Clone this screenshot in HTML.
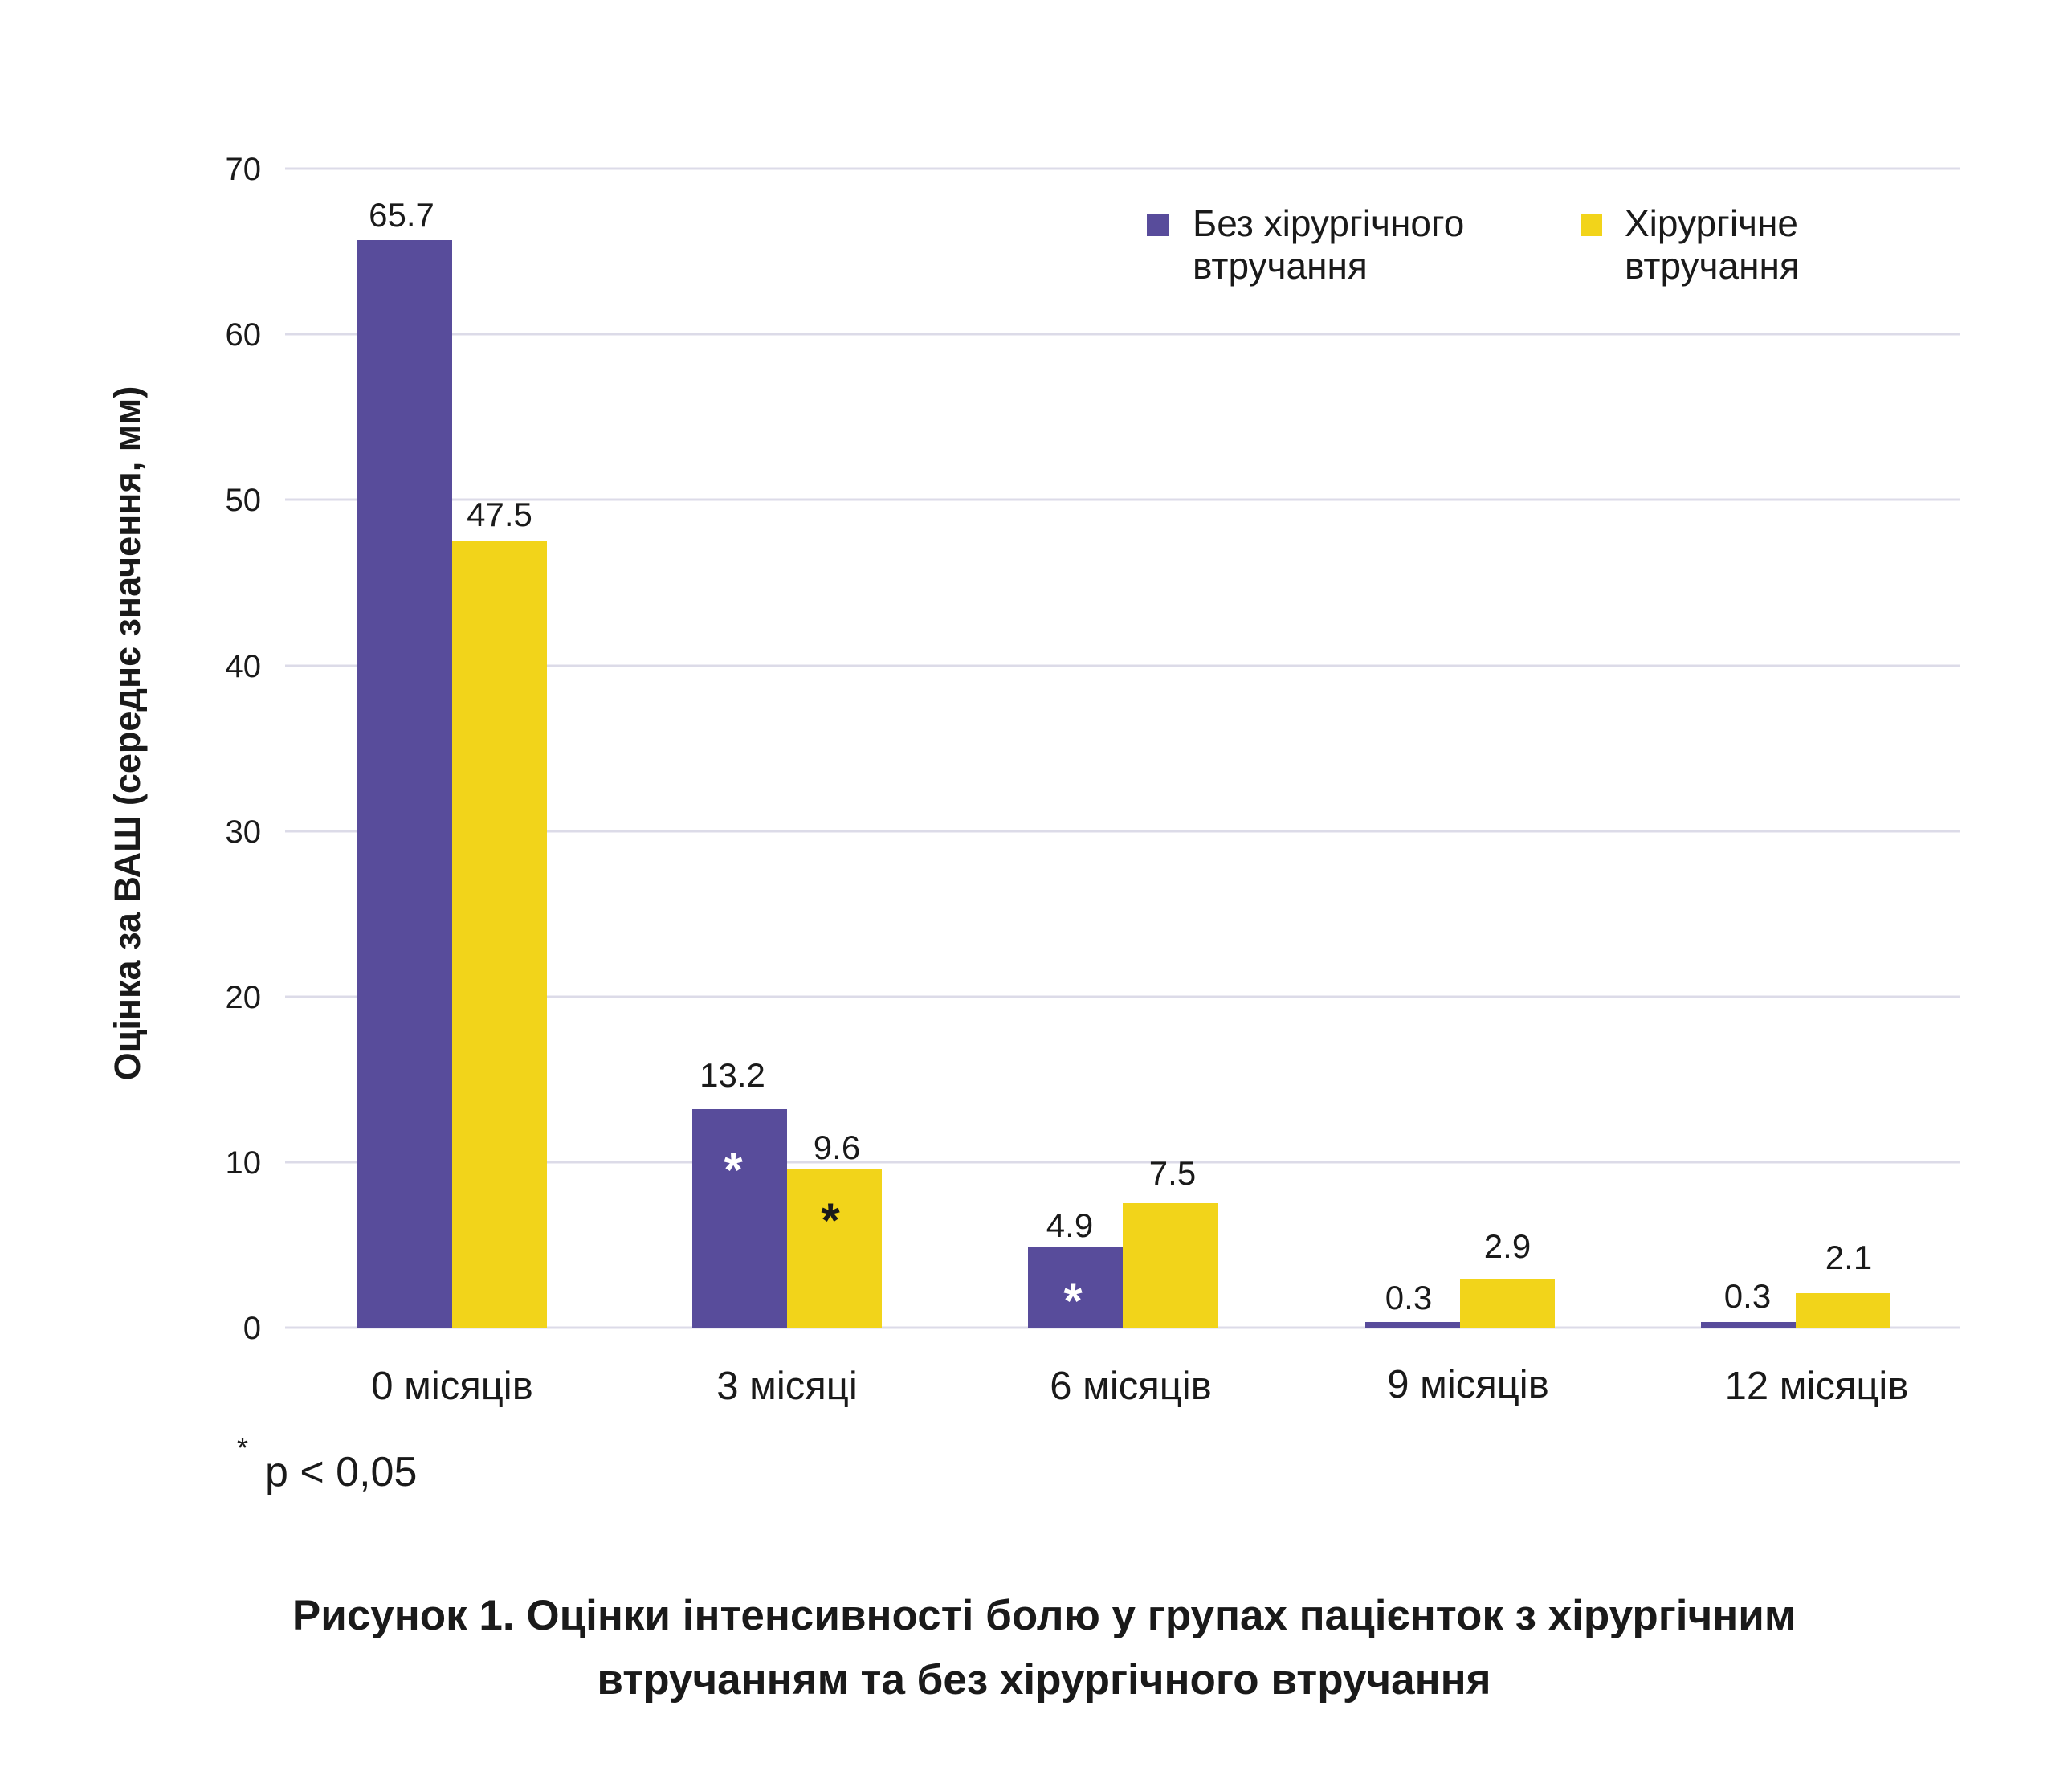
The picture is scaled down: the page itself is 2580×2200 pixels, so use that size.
<!DOCTYPE html>
<html><head><meta charset="utf-8"><style>
html,body{margin:0;padding:0;background:#fff;}
svg{display:block;}
text{font-family:"Liberation Sans",sans-serif;fill:#1a1a1a;}
</style></head><body>
<svg width="2580" height="2200" viewBox="0 0 2580 2200" xmlns="http://www.w3.org/2000/svg">
<g stroke="#dcdbe8" stroke-width="3">
<line x1="355" x2="2440" y1="210" y2="210"/>
<line x1="355" x2="2440" y1="416" y2="416"/>
<line x1="355" x2="2440" y1="622" y2="622"/>
<line x1="355" x2="2440" y1="829" y2="829"/>
<line x1="355" x2="2440" y1="1035" y2="1035"/>
<line x1="355" x2="2440" y1="1241" y2="1241"/>
<line x1="355" x2="2440" y1="1447" y2="1447"/>
<line x1="355" x2="2440" y1="1653" y2="1653"/>
</g>
<g font-size="40" text-anchor="end">
<text x="325" y="224">70</text>
<text x="325" y="430">60</text>
<text x="325" y="636">50</text>
<text x="325" y="843">40</text>
<text x="325" y="1049">30</text>
<text x="325" y="1255">20</text>
<text x="325" y="1461">10</text>
<text x="325" y="1667">0</text>
</g>
<text transform="translate(174,913) rotate(-90)" font-size="45" font-weight="bold" text-anchor="middle">Оцінка за ВАШ (середнє значення, мм)</text>
<g fill="#584c9b">
<rect x="445" y="299" width="118" height="1354"/>
<rect x="862" y="1381" width="118" height="272"/>
<rect x="1280" y="1552" width="118" height="101"/>
<rect x="1700" y="1646" width="118" height="7"/>
<rect x="2118" y="1646" width="118" height="7"/>
</g>
<g fill="#f2d41a">
<rect x="563" y="674" width="118" height="979"/>
<rect x="980" y="1455" width="118" height="198"/>
<rect x="1398" y="1498" width="118" height="155"/>
<rect x="1818" y="1593" width="118" height="60"/>
<rect x="2236" y="1610" width="118" height="43"/>
</g>
<g font-size="42" text-anchor="middle">
<text x="500" y="282">65.7</text>
<text x="622" y="655">47.5</text>
<text x="912" y="1353">13.2</text>
<text x="1042" y="1443">9.6</text>
<text x="1332" y="1540">4.9</text>
<text x="1460" y="1475">7.5</text>
<text x="1754" y="1630">0.3</text>
<text x="1877" y="1566">2.9</text>
<text x="2176" y="1628">0.3</text>
<text x="2302" y="1580">2.1</text>
</g>
<g font-size="60" font-weight="bold" text-anchor="middle">
<text x="913" y="1477" style="fill:#fff">*</text>
<text x="1034" y="1540">*</text>
<text x="1336" y="1640" style="fill:#fff">*</text>
</g>
<g font-size="49" text-anchor="middle">
<text x="563" y="1742">0 місяців</text>
<text x="980" y="1742">3 місяці</text>
<text x="1408" y="1742">6 місяців</text>
<text x="1828" y="1740">9 місяців</text>
<text x="2262" y="1742">12 місяців</text>
</g>
<rect x="1428" y="267" width="27" height="27" fill="#584c9b"/>
<text x="1485" y="294" font-size="46">Без хірургічного</text>
<text x="1485" y="347" font-size="46">втручання</text>
<rect x="1968" y="267" width="27" height="27" fill="#f2d41a"/>
<text x="2023" y="294" font-size="46">Хірургічне</text>
<text x="2023" y="347" font-size="46">втручання</text>
<text x="295" y="1815" font-size="36">*</text>
<text x="330" y="1850" font-size="52">p &lt; 0,05</text>
<g font-size="53" font-weight="bold" text-anchor="middle">
<text x="1300" y="2029">Рисунок 1. Оцінки інтенсивності болю у групах пацієнток з хірургічним</text>
<text x="1300" y="2109">втручанням та без хірургічного втручання</text>
</g>
</svg>
</body></html>
